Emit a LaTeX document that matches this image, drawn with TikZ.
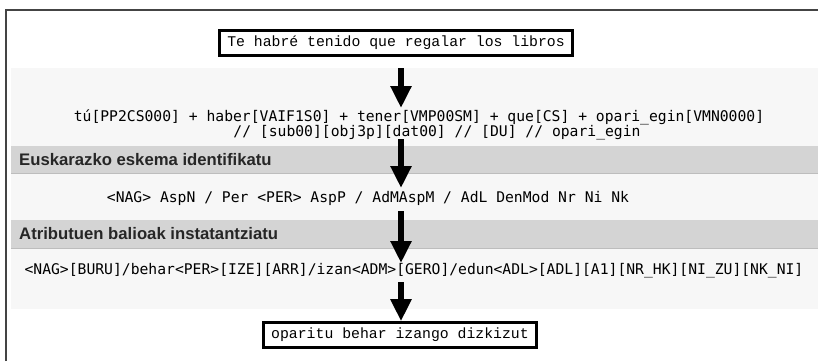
\documentclass[tikz,border=0pt]{standalone}
\usepackage{fontspec}
\setmainfont{Liberation Sans}
\setmonofont{Liberation Mono}
\newfontfamily\linemono{DejaVu Sans Mono}
\usetikzlibrary{arrows.meta}
\definecolor{framecol}{HTML}{444444}
\definecolor{panelcol}{HTML}{F7F7F7}
\definecolor{bandcol}{HTML}{D4D4D4}
\definecolor{bandedge}{HTML}{BDBDBD}
\tikzset{
  mono/.style={font=\fontsize{14.7}{16}\selectfont\linemono, inner sep=0pt, text height=9pt, text depth=2pt},
  txtbox/.style={font=\fontsize{14.8}{16}\selectfont\ttfamily, inner sep=0pt, text height=10pt, text depth=3pt,
    draw=black, line width=2.6pt, fill=white, inner xsep=8pt, inner ysep=6pt},
  bandlabel/.style={font=\fontsize{16.7}{18}\selectfont\bfseries, text=black!85, inner sep=0pt, anchor=west},
  bigarrow/.style={line width=6pt, -{Triangle[width=20pt,length=22pt]}, black},
}
\begin{document}
\begin{tikzpicture}[x=1pt,y=-1pt]
\useasboundingbox (0,0) rectangle (818,361);
% background panel and grey section bands
\fill[panelcol] (11,68) rectangle (818,309);
\fill[bandcol] (11,146) rectangle (818,173);
\draw[bandedge, line width=0.8pt] (11,173) -- (818,173);
\fill[bandcol] (11,220) rectangle (818,248);
\draw[bandedge, line width=0.8pt] (11,248) -- (818,248);
% outer frame
\draw[framecol, line width=2pt] (6,361) -- (6,10) -- (818,10);

% input sentence and output translation
\node[txtbox] (src) at (396,43) {Te habré tenido que regalar los libros};
\node[txtbox] (out) at (400,335) {oparitu behar izango dizkizut};

% analysis lines
\node[mono] (an1) at (419,118) {tú[PP2CS000] + haber[VAIF1S0] + tener[VMP00SM] + que[CS] + opari\_egin[VMN0000]};
\node[mono] (an2) at (437,133) {// [sub00][obj3p][dat00] // [DU] // opari\_egin};
\node[mono] (sch) at (368,199) {<NAG> AspN / Per <PER> AspP / AdMAspM / AdL DenMod Nr Ni Nk};
\node[mono] (att) at (414,271) {<NAG>[BURU]/behar<PER>[IZE][ARR]/izan<ADM>[GERO]/edun<ADL>[ADL][A1][NR\_HK][NI\_ZU][NK\_NI]};

% section titles
\node[bandlabel] (b1) at (19,160) {Euskarazko eskema identifikatu};
\node[bandlabel] (b2) at (19,234) {Atributuen balioak instatantziatu};

% flow arrows
\coordinate (a1s) at (401,68);
\coordinate (a1e) at (401,108);
\coordinate (a2s) at (401,139);
\coordinate (a2e) at (401,188);
\coordinate (a3s) at (401,211);
\coordinate (a3e) at (401,263);
\coordinate (a4s) at (401,282);
\draw[bigarrow] (a1s) -- (a1e);
\draw[bigarrow] (a2s) -- (a2e);
\draw[bigarrow] (a3s) -- (a3e);
\draw[bigarrow] (a4s) -- (a4s |- out.north);
\end{tikzpicture}
\end{document}
